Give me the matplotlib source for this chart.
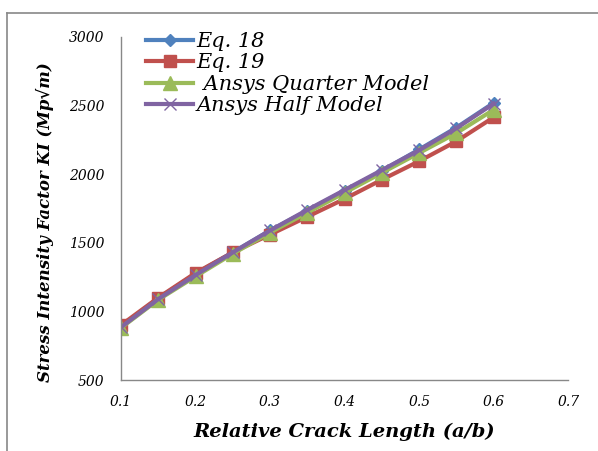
import numpy as np
import matplotlib
matplotlib.use('Agg')
import matplotlib.pyplot as plt
from matplotlib.lines import Line2D

plt.rcParams['font.family'] = 'DejaVu Serif'

crack_len = [0.1, 0.15, 0.2, 0.25, 0.3, 0.35, 0.4, 0.45, 0.5, 0.55, 0.6]
eq18 = [890, 1095, 1275, 1430, 1590, 1735, 1880, 2025, 2180, 2340, 2520]
eq19 = [900, 1100, 1280, 1430, 1560, 1690, 1820, 1960, 2095, 2240, 2415]
ansys_quarter = [880, 1085, 1255, 1420, 1575, 1720, 1865, 2010, 2155, 2300, 2470]
ansys_half = [885, 1090, 1265, 1430, 1590, 1740, 1885, 2030, 2175, 2335, 2515]

fig = plt.figure(figsize=(5.98, 4.51), dpi=100)
ax = fig.add_axes([0.2023, 0.1574, 0.748, 0.7606])

ax.plot(crack_len, eq18, color='#4F81BD', lw=3, marker='D', ms=6, label='Eq. 18')
ax.plot(crack_len, eq19, color='#C0504D', lw=3, marker='s', ms=9, label='Eq. 19')
ax.plot(crack_len, ansys_quarter, color='#9BBB59', lw=3, marker='^', ms=10, label=' Ansys Quarter Model')
ax.plot(crack_len, ansys_half, color='#8064A2', lw=3, marker='x', ms=8, mew=1, label='Ansys Half Model')

ax.set_xlim(0.1, 0.7)
ax.set_ylim(500, 3000)
ax.set_xticks([0.1, 0.2, 0.3, 0.4, 0.5, 0.6, 0.7])
ax.set_yticks([500, 1000, 1500, 2000, 2500, 3000])
ax.set_xticklabels(['0.1', '0.2', '0.3', '0.4', '0.5', '0.6', '0.7'], style='italic', fontsize=10)
ax.set_yticklabels(['500', '1000', '1500', '2000', '2500', '3000'], style='italic', fontsize=10)
ax.tick_params(axis='y', length=0, pad=12)
ax.tick_params(axis='x', length=0, pad=11)

for s in ['top', 'right']:
    ax.spines[s].set_visible(False)
for s in ['left', 'bottom']:
    ax.spines[s].set_color('#888888')
    ax.spines[s].set_linewidth(1)

ax.set_xlabel('Relative Crack Length (a/b)', fontsize=14, fontweight='bold', style='italic', labelpad=10)
ax.set_ylabel('Stress Intensity Factor KI (Mp\u221Am)', fontsize=12, fontweight='bold', style='italic')
ax.yaxis.set_label_coords(-0.15, 0.46)

ax.legend(loc='upper left', bbox_to_anchor=(0.055, 1.015), frameon=False,
          prop={'style': 'italic', 'size': 15}, handlelength=2.3, handletextpad=0.15,
          labelspacing=0.12, borderaxespad=0, borderpad=0)

# outer frame lines (left and top)
fig.add_artist(Line2D([7/598, 7/598], [0.0, 1 - 13/451], color='#888888', lw=1.2))
fig.add_artist(Line2D([7/598, 1.0], [1 - 13/451, 1 - 13/451], color='#888888', lw=1.2))

fig.savefig('out.png', dpi=100)
